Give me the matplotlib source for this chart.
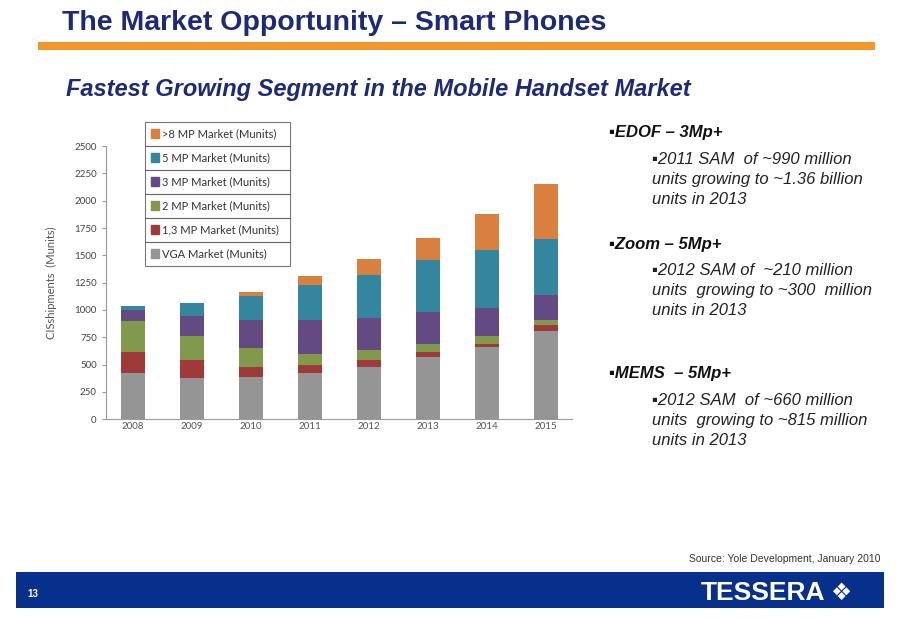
import matplotlib
matplotlib.use("Agg")
import matplotlib.pyplot as plt
from matplotlib.patches import Patch, Rectangle

# данные: поставки CIS по сегментам (млн шт.)
years = ["2008", "2009", "2010", "2011", "2012", "2013", "2014", "2015"]
vga = [425, 380, 390, 425, 480, 565, 660, 805]
mp13 = [190, 165, 90, 70, 60, 50, 30, 55]
mp2 = [280, 213, 175, 105, 90, 75, 70, 45]
mp3 = [100, 190, 250, 305, 300, 295, 260, 230]
mp5 = [40, 118, 220, 320, 390, 470, 530, 510]
mp8 = [0, 0, 35, 85, 150, 205, 330, 510]

series = [vga, mp13, mp2, mp3, mp5, mp8]
labels = ["VGA Market (Munits)", "1,3 MP Market (Munits)", "2 MP Market (Munits)",
          "3 MP Market (Munits)", "5 MP Market (Munits)", ">8 MP Market (Munits)"]
colors = ["#959595", "#9e3b3a", "#80994a", "#644a82", "#34869f", "#d9803f"]

navy = "#1d2a7a"
txt_font = ["Liberation Sans", "DejaVu Sans"]

fig = plt.figure(figsize=(9.04, 6.2), dpi=100)

# заголовок слайда и оранжевая полоса
fig.text(0.069, 0.963, "The Market Opportunity \u2013 Smart Phones", fontsize=20.5,
         fontweight="bold", color=navy, family=txt_font, va="center")
fig.add_artist(Rectangle((0.042, 0.919), 0.926, 0.014, transform=fig.transFigure,
                         color="#f0962a", lw=0))
fig.text(0.073, 0.855, "Fastest Growing Segment in the Mobile Handset Market", fontsize=17,
         fontweight="bold", style="italic", color=navy, family=txt_font, va="center")

# график
ax = fig.add_axes([0.117, 0.324, 0.516, 0.4403])
x = range(len(years))
bottom = [0] * len(years)
for vals, col in zip(series, colors):
    ax.bar(x, vals, width=0.41, bottom=bottom, color=col, lw=0)
    bottom = [b + v for b, v in zip(bottom, vals)]

ax.set_xlim(-0.46, 7.44)
ax.set_ylim(0, 2500)
ax.set_yticks(range(0, 2501, 250))
ax.set_xticks(list(x))
ax.set_xticklabels(years)
for s in ["top", "right"]:
    ax.spines[s].set_visible(False)
for s in ["left", "bottom"]:
    ax.spines[s].set_color("#9a9a9a")
    ax.spines[s].set_linewidth(0.8)
ax.tick_params(axis="y", length=3, color="#9a9a9a", labelsize=7, labelcolor="#444444")
ax.tick_params(axis="x", length=0, labelsize=7, labelcolor="#555555", pad=2)
for lab in ax.get_xticklabels() + ax.get_yticklabels():
    lab.set_family("Lato")
ax.set_ylabel("CISshipments  (Munits)", fontsize=8, color="#555555", family="Lato", labelpad=12)

# легенда: отдельные ячейки сверху вниз
row_h = 0.0387
top = 0.803
for i, idx in enumerate(range(5, -1, -1)):
    leg = fig.legend([Patch(color=colors[idx])], [labels[idx]], loc="upper left",
                     bbox_to_anchor=(0.160, top - (i + 1) * row_h, 0.161, row_h), mode="expand",
                     frameon=True, fancybox=False, borderpad=0.56,
                     handlelength=0.7, handleheight=0.8, handletextpad=0.3,
                     borderaxespad=0, prop={"family": "Lato", "size": 8})
    leg.get_frame().set_edgecolor("#555555")
    leg.get_frame().set_linewidth(0.8)
    leg.get_texts()[0].set_color("#333333")

# текст справа
blocks = [
    (0.786, "\u25aaEDOF \u2013 3Mp+", ["\u25aa2011 SAM  of ~990 million",
                                        "units growing to ~1.36 billion", "units in 2013"]),
    (0.606, "\u25aaZoom \u2013 5Mp+", ["\u25aa2012 SAM of  ~210 million",
                                        "units  growing to ~300  million", "units in 2013"]),
    (0.397, "\u25aaMEMS  \u2013 5Mp+", ["\u25aa2012 SAM  of ~660 million",
                                         "units  growing to ~815 million", "units in 2013"]),
]
for y0, head, lines in blocks:
    fig.text(0.674, y0, head, fontsize=12, fontweight="bold", style="italic",
             color="#111111", family=txt_font, va="center")
    for j, ln in enumerate(lines):
        fig.text(0.721, y0 - 0.0425 - j * 0.0325, ln, fontsize=12, style="italic",
                 color="#222222", family=txt_font, va="center")

fig.text(0.974, 0.099, "Source: Yole Development, January 2010", fontsize=7.5,
         color="#333333", family=txt_font, ha="right", va="center")

# нижняя синяя полоса
fig.add_artist(Rectangle((0.018, 0.019), 0.960, 0.058, transform=fig.transFigure,
                         color="#06308c", lw=0))
fig.text(0.030, 0.042, "13", fontsize=7, fontweight="bold", color="white",
         family=txt_font, va="center")
fig.text(0.913, 0.044, "TESSERA", fontsize=19, fontweight="bold", color="white",
         family=txt_font, va="center", ha="right")
fig.text(0.918, 0.044, "\u2756", fontsize=17, color="white", family="DejaVu Sans",
         va="center", ha="left")

fig.savefig("out.png", dpi=100)
